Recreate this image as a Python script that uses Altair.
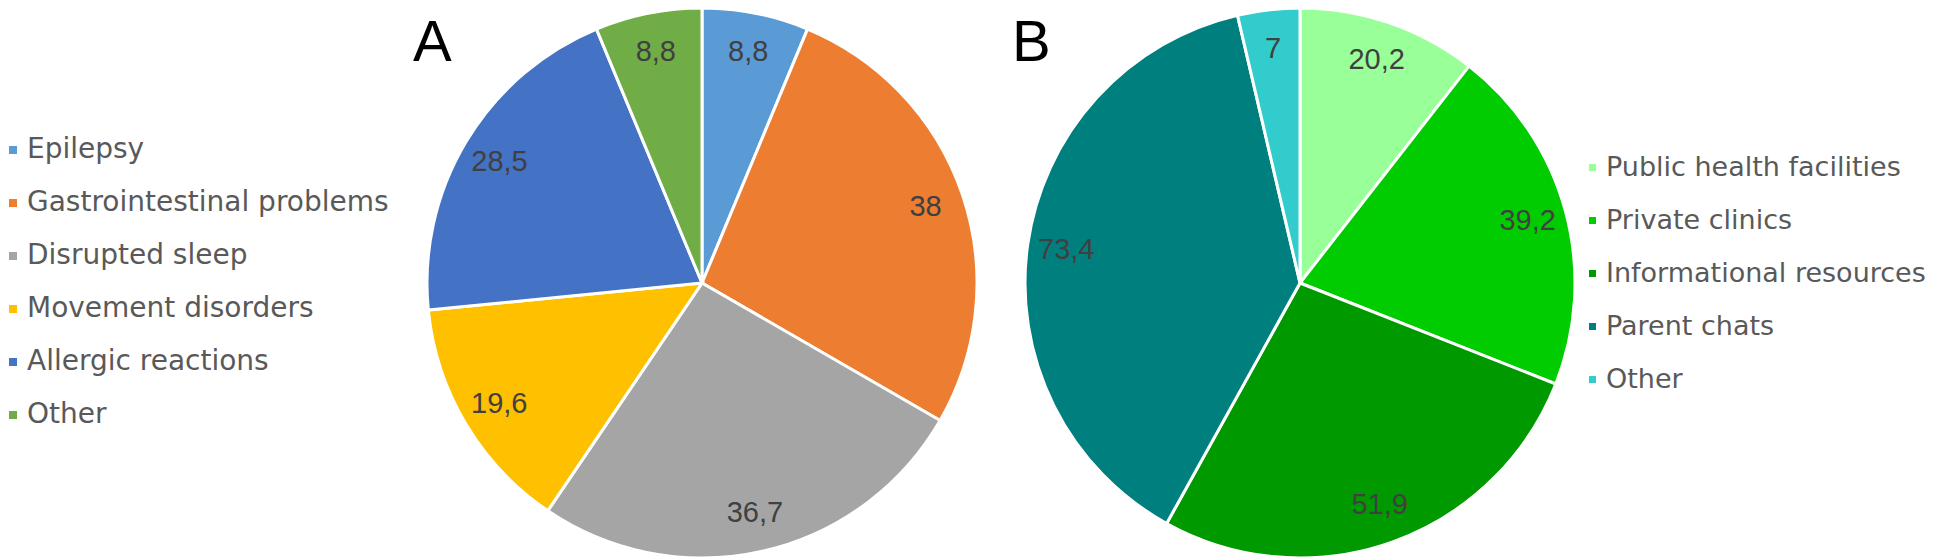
import altair as alt
import pandas as pd

# Panel A
cats_a = ["Epilepsy", "Gastrointestinal problems", "Disrupted sleep",
          "Movement disorders", "Allergic reactions", "Other"]
vals_a = [8.8, 38, 36.7, 19.6, 28.5, 8.8]
cols_a = ["#5B9BD5", "#ED7D31", "#A5A5A5", "#FFC000", "#4472C4", "#70AD47"]

# Panel B
cats_b = ["Public health facilities", "Private clinics", "Informational resources",
          "Parent chats", "Other"]
vals_b = [20.2, 39.2, 51.9, 73.4, 7]
cols_b = ["#99FF99", "#00CC00", "#009900", "#007F7F", "#33CCCC"]


def fmt(v):
    s = ("%g" % v)
    return s.replace(".", ",")


df_a = pd.DataFrame({"cat": cats_a, "val": vals_a, "idx": range(len(cats_a)),
                     "lab": [fmt(v) for v in vals_a]})
df_b = pd.DataFrame({"cat": cats_b, "val": vals_b, "idx": range(len(cats_b)),
                     "lab": [fmt(v) for v in vals_b]})

R = 275
LR = 236
CY = 275
CXA = 694
CXB = 1292


def pie(df, cats, cols, cx, lx, ly, sym, loff, fs, rp):
    base = alt.Chart(df).encode(
        theta=alt.Theta("val:Q", stack=True),
        order=alt.Order("idx:Q"),
        x=alt.value(cx),
        y=alt.value(CY),
    )
    arc = base.mark_arc(outerRadius=R, stroke="white", strokeWidth=3).encode(
        color=alt.Color(
            "cat:N",
            sort=cats,
            scale=alt.Scale(domain=cats, range=cols),
            legend=alt.Legend(
                orient="none", legendX=lx, legendY=ly, title=None, padding=0,
                symbolType="square", symbolSize=sym, symbolStrokeWidth=0,
                labelFont="DejaVu Sans", labelFontSize=fs, labelColor="#595959",
                rowPadding=rp, labelOffset=loff, labelLimit=600,
            ),
        )
    )
    txt = base.mark_text(radius=LR, font="Liberation Sans", fontSize=29,
                         color="#404040").encode(text="lab:N")
    return alt.layer(arc, txt)


pie_a = pie(df_a, cats_a, cols_a, CXA, -9, 128, 64, 0, 28, 25)
pie_b = pie(df_b, cats_b, cols_b, CXB, 1571, 146, 49, 0, 27, 25)

letter_a = alt.Chart(pd.DataFrame({"t": ["A"]})).mark_text(
    font="Liberation Sans", fontSize=58, color="black", align="left",
    baseline="alphabetic").encode(text="t:N", x=alt.value(405), y=alt.value(53))
letter_b = alt.Chart(pd.DataFrame({"t": ["B"]})).mark_text(
    font="Liberation Sans", fontSize=58, color="black", align="left",
    baseline="alphabetic").encode(text="t:N", x=alt.value(1004), y=alt.value(53))

chart = alt.layer(pie_a, pie_b, letter_a, letter_b).resolve_scale(
    theta="independent", color="independent"
).properties(
    width=1927, height=552, autosize="none", padding=0
).configure_view(stroke=None)

chart.save("out.html", embed_options={"renderer": "svg", "actions": False})
